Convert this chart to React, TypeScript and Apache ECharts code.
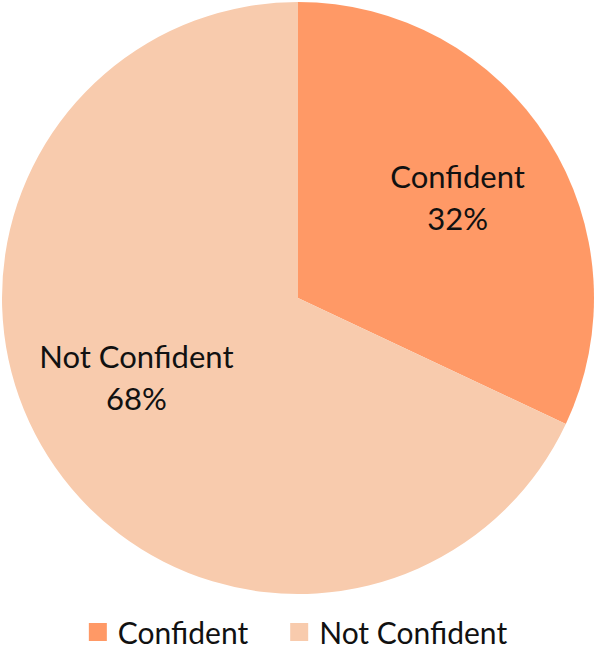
import React, { useEffect, useRef } from "react";
import * as echarts from "echarts";

const categories = ["Confident", "Not Confident"];
const values = [32, 68];
const colors = ["#FF9966", "#F8CBAD"];

export default function App() {
  const ref = useRef<HTMLDivElement>(null);
  useEffect(() => {
    if (!ref.current) return;
    const chart = echarts.init(ref.current, null, { renderer: "svg" });
    const data = categories.map((name, i) => ({
      name,
      value: values[i],
      itemStyle: { color: colors[i] },
    }));
    const font = "Lato, 'Open Sans', sans-serif";
    chart.setOption({
      animation: false,
      legend: {
        data: categories,
        top: 617,
        left: "center",
        padding: 0,
        itemWidth: 18,
        itemHeight: 18,
        itemGap: 42,
        icon: "rect",
        textStyle: {
          fontFamily: font,
          fontSize: 30,
          lineHeight: 30,
          color: "#111",
          padding: [0, 0, 0, 6],
        },
      },
      series: [
        {
          type: "pie",
          center: [298, 298],
          radius: [0, 296],
          startAngle: 90,
          clockwise: true,
          silent: true,
          label: { show: false },
          labelLine: { show: false },
          itemStyle: { borderWidth: 0 },
          data,
        },
        {
          type: "pie",
          center: [298, 298],
          radius: [0, 372],
          startAngle: 90,
          clockwise: true,
          silent: true,
          itemStyle: { color: "transparent", borderWidth: 0 },
          labelLine: { show: false },
          label: {
            show: true,
            position: "inner",
            formatter: "{b}\n{d}%",
            fontFamily: font,
            fontSize: 31,
            lineHeight: 42,
            color: "#111",
          },
          data: categories.map((name, i) => ({
            name,
            value: values[i],
            label: i === 1 ? { offset: [-2, -22] } : undefined,
          })),
        },
      ],
    });
    return () => chart.dispose();
  }, []);
  return (
    <div
      ref={ref}
      style={{ position: "absolute", left: 0, top: 0, width: 596, height: 651, background: "#fff" }}
    />
  );
}
